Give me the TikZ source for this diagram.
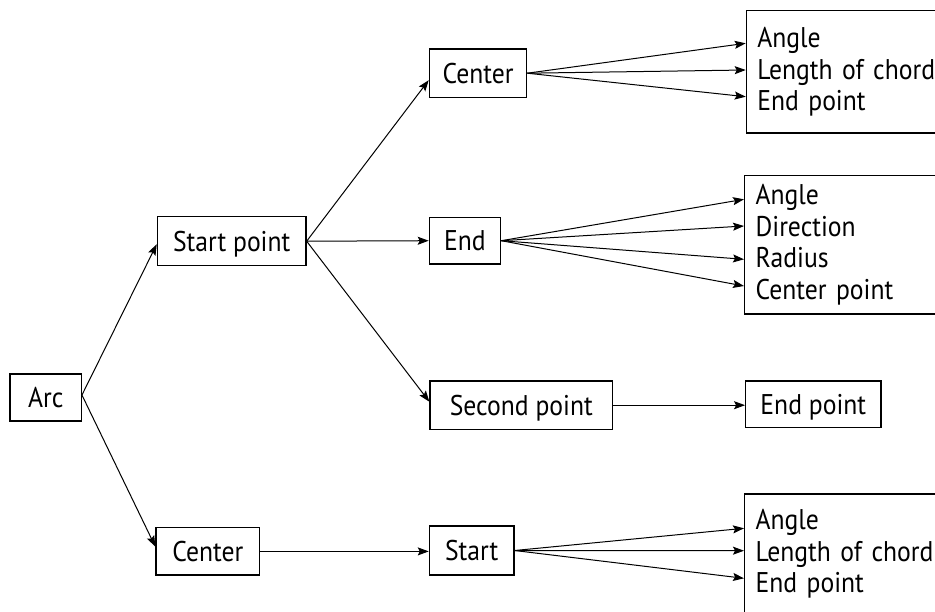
\documentclass[tikz,border=0pt]{standalone}
\usepackage{fontspec}
\setmainfont[FakeStretch=0.9]{PT Sans}
\usetikzlibrary{arrows.meta,calc}
\tikzset{
  box/.style={draw, line width=1.2pt, inner sep=0pt, font=\fontsize{28.5}{31.6}\selectfont, text height=20pt, text depth=0pt},
  listbox/.style={draw, line width=1.2pt, anchor=north west, inner xsep=11pt, inner ysep=0pt, align=left, text width=228pt, font=\fontsize{28.5}{31.6}\selectfont},
  arr/.style={line width=1pt, -{Stealth[length=11pt,width=8pt,inset=2pt]}}
}
\begin{document}
\begin{tikzpicture}[x=1pt,y=-1pt]
\useasboundingbox (0,0) rectangle (935,611);
\clip (0,0) rectangle (935,611);
\node[box, minimum width=71.3pt, minimum height=47pt] (arc) at (45.7,397.5) {Arc};
\node[box, minimum width=148.7pt, minimum height=49pt] (sp) at (231.7,241.2) {Start point};
\node[box, minimum width=103.7pt, minimum height=47.3pt] (cl) at (207.8,551.4) {Center};
\node[box, minimum width=97.4pt, minimum height=48.3pt] (ct) at (478,73.2) {Center};
\node[box, minimum width=71.4pt, minimum height=46.7pt] (en) at (465,240.7) {End};
\node[box, minimum width=182.7pt, minimum height=48.3pt] (sc) at (521.3,405.2) {Second point};
\node[box, minimum width=135.3pt, minimum height=46.3pt] (ep) at (813.3,404.2) {End point};
\node[box, minimum width=84.7pt, minimum height=49pt] (st) at (471.7,550.5) {Start};
\node[listbox, minimum height=122.3pt] (r1) at (745.7,10) {Angle\\Length of chord\\End point};
\node[listbox, minimum height=138.3pt] (r2) at (744,175) {Angle\\Direction\\Radius\\Center point};
\node[listbox, minimum height=120pt] (r3) at (744,493.3) {Angle\\Length of chord\\End point};
% connectors
\draw[arr] ([yshift=2.5pt]arc.east) -- ([yshift=-3pt]sp.west);
\draw[arr] ([yshift=2.5pt]arc.east) -- ([yshift=4.7pt]cl.west);
\draw[arr] (sp.east) -- ([yshift=-7pt]ct.west);
\draw[arr] (sp.east) -- (en.west);
\draw[arr] (sp.east) -- ([yshift=3.5pt]sc.west);
\draw[arr] (sc.east) -- (sc.east -| ep.west);
\draw[arr] (cl.east) -- (cl.east -| st.west);
\draw[arr] (ct.east) -- ([yshift=-33.3pt]r1.north west);
\draw[arr] (ct.east) -- ([yshift=-60pt]r1.north west);
\draw[arr] (ct.east) -- ([yshift=-86.7pt]r1.north west);
\draw[arr] (en.east) -- ([yshift=-24.3pt]r2.north west);
\draw[arr] (en.east) -- ([yshift=-51pt]r2.north west);
\draw[arr] (en.east) -- ([yshift=-84.3pt]r2.north west);
\draw[arr] (en.east) -- ([yshift=-111pt]r2.north west);
\draw[arr] (st.east) -- ([yshift=-35pt]r3.north west);
\draw[arr] (st.east) -- ([yshift=-57.4pt]r3.north west);
\draw[arr] (st.east) -- ([yshift=-85pt]r3.north west);
\end{tikzpicture}
\end{document}
